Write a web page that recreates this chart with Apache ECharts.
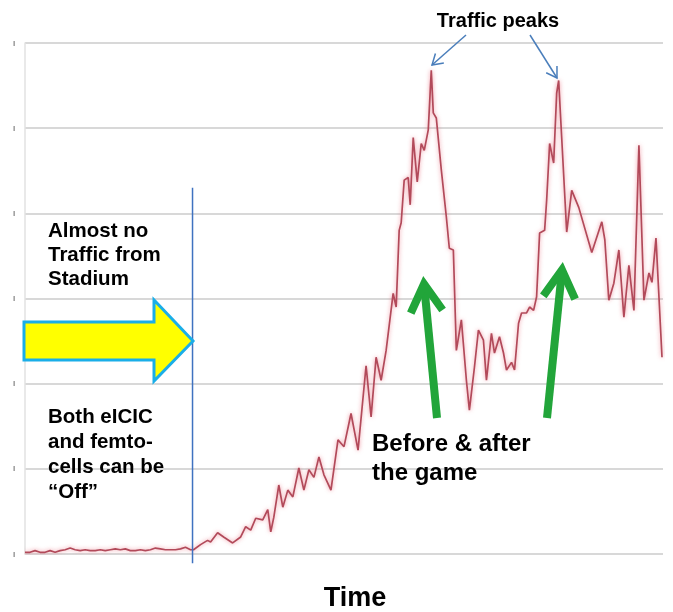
<!DOCTYPE html>
<html>
<head>
<meta charset="utf-8">
<script src="https://cdn.jsdelivr.net/npm/echarts@6/dist/echarts.min.js"></script>
<style>html,body{margin:0;padding:0;background:#fff}#c{width:673px;height:612px}</style>
</head>
<body>
<div id="c"></div>
<script>
// Time (arbitrary units) and traffic (arbitrary units, gridline = 1)
const times = [0,5,10,15,20,25,30,35,40,45,50,55,60,65,70,75,80,85,90,95,100,105,110,115,120,125,130,135,140,145,150,155,160,165,168,
175,182,185,192,198,207,215,220,225,230,237,242,245,248,253,257,262,267,273,278,283,288,293,298,305,312,318,325,332,340,345,350,355,360,367,370,373,375,378,382,384,387,391,395,398,402,405,407,410,415,420,423,427,430,435,440,443,448,452,457,460,465,468,473,477,480,485,488,492,495,500,503,507,510,513,518,520,523,527,530,532,535,540,545,552,565,575,578,582,587,592,597,602,607,612,617,622,625,629,635];
const traffic = [0.02,0.02,0.04,0.02,0.02,0.04,0.02,0.04,0.05,0.07,0.05,0.04,0.05,0.04,0.04,0.05,0.04,0.05,0.06,0.05,0.06,0.04,0.04,0.05,0.04,0.05,0.07,0.06,0.05,0.05,0.05,0.06,0.08,0.05,0.05,
0.11,0.16,0.14,0.25,0.20,0.13,0.20,0.32,0.28,0.42,0.40,0.52,0.26,0.43,0.81,0.55,0.75,0.67,1.01,0.75,0.99,0.90,1.14,0.93,0.75,1.34,1.26,1.65,1.22,2.21,1.61,2.31,2.04,2.39,3.06,2.90,3.80,3.89,4.39,4.42,4.10,4.89,4.37,4.82,4.74,4.98,5.68,5.18,5.12,4.51,3.96,3.59,3.57,2.39,2.75,2.04,1.69,2.19,2.63,2.51,2.04,2.59,2.36,2.55,2.36,2.16,2.25,2.16,2.71,2.83,2.83,2.90,2.86,3.02,3.77,3.80,4.15,4.82,4.59,5.41,5.56,4.89,3.78,4.27,4.07,3.54,3.90,3.69,2.98,3.18,3.57,2.78,3.39,2.86,4.80,2.98,3.30,3.19,3.71,2.31];
const yTicks = [0,1,2,3,4,5,6];
// event marker: time and its vertical extent (traffic units)
const eventTime = 167;
const eventSpan = [4.30, -0.11];

const seriesData = times.map((t, i) => [t, traffic[i]]);
const eventData = eventSpan.map(v => [eventTime, v]);

function head(tail, tip, len, angDeg) {
  const dx = tail[0] - tip[0], dy = tail[1] - tip[1];
  const a = Math.atan2(dy, dx), d = angDeg * Math.PI / 180;
  return [
    [tip[0] + len * Math.cos(a + d), tip[1] + len * Math.sin(a + d)],
    tip,
    [tip[0] + len * Math.cos(a - d), tip[1] + len * Math.sin(a - d)]
  ];
}
function arrow(tail, tip, len, ang, color, w) {
  return [
    {type: 'line', z: 50, shape: {x1: tail[0], y1: tail[1], x2: tip[0], y2: tip[1]}, style: {stroke: color, lineWidth: w}},
    {type: 'polyline', z: 50, shape: {points: head(tail, tip, len, ang)}, style: {stroke: color, lineWidth: w, fill: null, lineJoin: 'miter'}}
  ];
}
const F = '"Liberation Sans", Arial, sans-serif';
function txt(x, y, s, size, align) {
  return {type: 'text', z: 60, x: x, y: y, style: {text: s, fill: '#000', font: 'bold ' + size + 'px ' + F, textAlign: align || 'left', textVerticalAlign: 'middle'}};
}

const chart = echarts.init(document.getElementById('c'), null, {renderer: 'canvas'});
chart.setOption({
  animation: false,
  backgroundColor: '#fff',
  grid: {left: 25, right: 10, top: 43, bottom: 58},
  xAxis: {type: 'value', min: 0, max: 636, axisLine: {show: false}, axisTick: {show: false}, axisLabel: {show: false}, splitLine: {show: false}},
  yAxis: {type: 'value', min: yTicks[0], max: yTicks[yTicks.length - 1], interval: 1,
    axisLine: {show: true, lineStyle: {color: '#e2e2e2', width: 1.5}},
    axisTick: {show: false},
    axisLabel: {show: true, formatter: () => '|', fontSize: 6, fontWeight: 'bold', color: '#444', margin: 10},
    splitLine: {show: true, lineStyle: {color: '#d8d8d8', width: 2}}
  },
  series: [{
    type: 'line', data: seriesData, showSymbol: false, smooth: false, z: 3,
    lineStyle: {color: '#b24a5a', width: 1.7, shadowColor: 'rgba(235,120,135,0.8)', shadowBlur: 4}
  }, {
    type: 'line', data: eventData, showSymbol: false, clip: false, z: 4,
    lineStyle: {color: '#3f72c0', width: 1.5}
  }],
  graphic: [
    {type: 'polygon', z: 40, shape: {points: [[24,322],[154,322],[154,300],[193,341],[154,381],[154,360],[24,360]]},
      style: {fill: '#ffff00', stroke: '#1aaee8', lineWidth: 3, lineJoin: 'miter'}},
    ...arrow([466,35],[432,65], 12, 32, '#4a7ebb', 1.5),
    ...arrow([530,35],[557,78], 12, 32, '#4a7ebb', 1.5),
    ...arrow([437,418],[424,284], 32, 30, '#22a53a', 8),
    ...arrow([547,418],[562,270], 32, 30, '#22a53a', 8),
    txt(498, 21, 'Traffic peaks', 20, 'center'),
    txt(48, 231, 'Almost no', 20.5),
    txt(48, 255, 'Traffic from', 20.5),
    txt(48, 279, 'Stadium', 20.5),
    txt(48, 417, 'Both eICIC', 20.5),
    txt(48, 442, 'and femto-', 20.5),
    txt(48, 467, 'cells can be', 20.5),
    txt(48, 492, '\u201COff\u201D', 20.5),
    txt(372, 444, 'Before & after', 24),
    txt(372, 473, 'the game', 24),
    txt(355, 599, 'Time', 27, 'center')
  ]
});
</script>
</body>
</html>
